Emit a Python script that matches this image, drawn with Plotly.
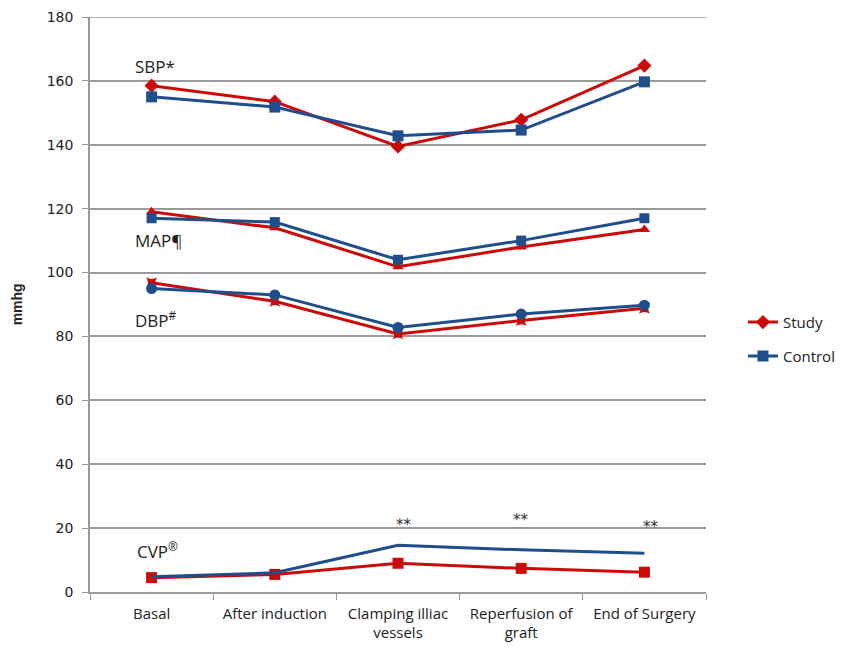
import plotly.graph_objects as go

categories = ["Basal", "After induction", "Clamping illiac<br>vessels", "Reperfusion of<br>graft", "End of Surgery"]

sbp_study = [158.5, 153.5, 139.5, 147.8, 164.8]
sbp_control = [155.0, 151.8, 142.8, 144.6, 159.7]
map_study = [119.0, 114.0, 101.8, 108.0, 113.5]
map_control = [117.0, 115.8, 104.0, 110.0, 117.0]
dbp_study = [96.8, 91.0, 80.8, 85.0, 88.8]
dbp_control = [95.0, 93.0, 82.8, 87.0, 89.8]
cvp_study = [4.5, 5.5, 9.0, 7.4, 6.2]
cvp_control = [4.8, 6.0, 14.6, 13.2, 12.1]

y_ticks = [0, 20, 40, 60, 80, 100, 120, 140, 160, 180]
Y_MAX = 180

RED = "#CC0A0A"
BLUE = "#1F4E8C"
GRID = "#999999"

fig = go.Figure()

def add(y, color, symbol, name, legend=None, size=10):
    fig.add_trace(go.Scatter(
        x=categories, y=y, mode="lines+markers", name=name,
        line=dict(color=color, width=3),
        marker=dict(symbol=symbol, size=size, color=color),
        showlegend=legend is not None,
        legend=legend if legend else "legend",
    ))

add(sbp_study, RED, "diamond", "Study", legend="legend", size=11)
add(sbp_control, BLUE, "square", "Control", legend="legend2", size=11)
add(map_study, RED, "triangle-up", "Study")
add(map_control, BLUE, "square", "Control")
add(dbp_study, RED, "star-square", "Study")
add(dbp_control, BLUE, "circle", "Control", size=11)
add(cvp_study, RED, "square", "Study", size=11)
fig.add_trace(go.Scatter(
    x=categories, y=cvp_control, mode="lines", name="Control",
    line=dict(color=BLUE, width=3), showlegend=False,
))

label_font = dict(family="Open Sans", size=17, color="#222222")
labels = [("SBP*", 0.03, 164.5), ("MAP¶", 0.06, 110.0), ("DBP<sup>#</sup>", 0.035, 85.3), ("CVP<sup>®</sup>", 0.05, 13.0)]
for text, x, y in labels:
    fig.add_annotation(x=x, y=y, text=text, showarrow=False, font=label_font, xref="x", yref="y")

stars = [(2.05, 21.0), (3.0, 22.5), (4.05, 20.3)]
for x, y in stars:
    fig.add_annotation(x=x, y=y, text="**", showarrow=False,
                       font=dict(family="DejaVu Sans", size=15, color="#333333"), xref="x", yref="y")

fig.add_annotation(x=-0.135, y=0.5, xref="paper", yref="paper", text="<b>mmhg</b>", textangle=-90,
                   showarrow=False, font=dict(family="Liberation Sans", size=14, color="#222222"))

# top gridline (plotly omits the grid line at the range edge)
fig.add_shape(type="line", xref="paper", x0=0, x1=1, yref="y", y0=Y_MAX, y1=Y_MAX,
              line=dict(color=GRID, width=1.5), layer="below")

fig.update_layout(
    width=851, height=648,
    margin=dict(l=82, r=153, t=9, b=64),
    plot_bgcolor="white", paper_bgcolor="white",
    font=dict(family="Open Sans", size=14, color="#222222"),
    legend=dict(x=1.06, y=0.469, xanchor="left", yanchor="middle",
                font=dict(family="Open Sans", size=15, color="#222222"), bgcolor="rgba(0,0,0,0)"),
    legend2=dict(x=1.06, y=0.41, xanchor="left", yanchor="middle",
                 font=dict(family="Open Sans", size=15, color="#222222"), bgcolor="rgba(0,0,0,0)"),
)
fig.update_xaxes(
    type="category", range=[-0.5, 4.5], tickson="boundaries", automargin=False,
    ticks="outside", ticklen=6, tickcolor=GRID, ticklabelstandoff=7,
    showline=True, linecolor=GRID, linewidth=1.5, showgrid=False,
    tickfont=dict(family="Open Sans", size=15, color="#222222"),
)
fig.update_yaxes(
    range=[0, Y_MAX], tickvals=y_ticks, ticks="outside", ticklen=6, tickcolor=GRID,
    automargin=False, ticklabelstandoff=6, ticklabeloverflow="allow",
    showline=True, linecolor=GRID, linewidth=1.5,
    showgrid=True, gridcolor=GRID, gridwidth=1.5, zeroline=False,
    tickfont=dict(family="DejaVu Sans", size=14, color="#222222"),
)

fig.write_html("out.html")
